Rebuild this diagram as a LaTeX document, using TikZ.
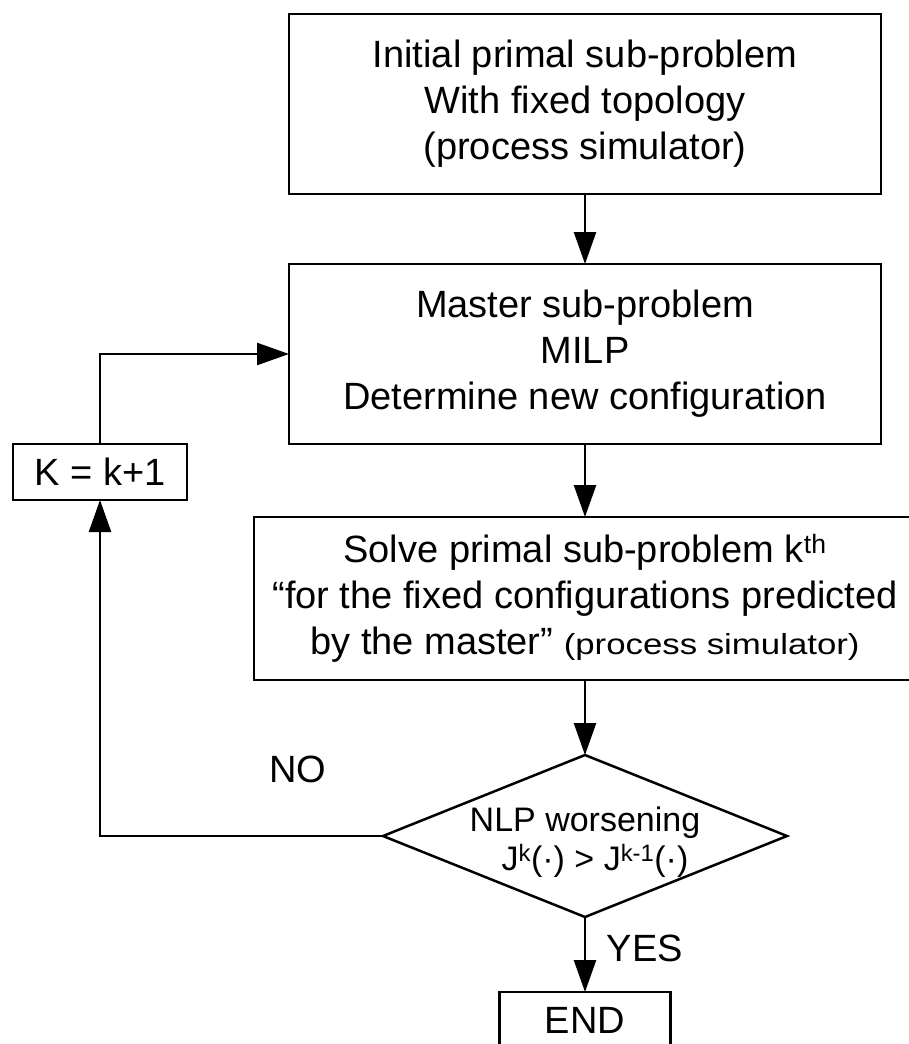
\documentclass[tikz,border=0pt]{standalone}
\usepackage{fontspec}
\setmainfont{Liberation Sans}
\newfontfamily\widesans[FakeStretch=1.2]{Liberation Sans}
\usetikzlibrary{positioning,shapes.geometric,arrows.meta}

\begin{document}
\begin{tikzpicture}[x=1pt,y=1pt,
    every node/.style={font=\fontsize{38}{46}\selectfont},
    stepbox/.style={draw,line width=2.5pt,align=center,inner sep=0pt,outer sep=0pt,minimum width=592pt,minimum height=180pt},
    smallbox/.style={draw,line width=2.5pt,inner sep=0pt,outer sep=0pt},
    decision/.style={draw,shape=diamond,line width=2.5pt,inner sep=0pt,outer sep=0pt,minimum width=404pt,minimum height=162pt},
    flow/.style={line width=2.5pt,-{Triangle[length=32pt,width=22pt]}}]
      \useasboundingbox (0,0) rectangle (909,-1044);

      \node[stepbox] (init) at (585,-104) {Initial primal sub-problem\\With fixed topology\\(process simulator)};
      \node[stepbox,below=70pt of init] (master) {Master sub-problem\\MILP\\Determine new configuration};
      \node[stepbox,below=73pt of master,minimum width=662pt,minimum height=163pt] (solve) {Solve primal sub-problem k\textsuperscript{th}\\“for the fixed configurations predicted\\by the master” {\widesans\fontsize{29}{30}\selectfont(process simulator)}};
      \node[decision,below=75pt of solve] (nlp) {};
      \node[align=center,font=\fontsize{34}{39}\selectfont] (nlptxt) at ([yshift=-6pt]nlp.center) {NLP worsening\\ \hspace*{20pt}J\textsuperscript{k}(·) > J\textsuperscript{k-1}(·)};
      \node[smallbox,below=75pt of nlp,minimum width=171pt,minimum height=56pt] (endbox) {END};
      \node[smallbox,below left=0pt and 102pt of master,minimum width=174pt,minimum height=56pt] (kbox) {K = k+1};

      \node (no) at (298,-769) {NO};
      \node (yes) at (645,-948) {YES};

      %main chain
      \draw[flow] (init) -- (master);
      \draw[flow] (master) -- (solve);
      \draw[flow] (solve) -- (nlp);
      \draw[flow] (nlp) -- (endbox);

      %loop back
      \draw[flow] (nlp.west) -| (kbox.south);
      \draw[flow] (kbox.north) |- (master.west);
    \end{tikzpicture}
\end{document}
